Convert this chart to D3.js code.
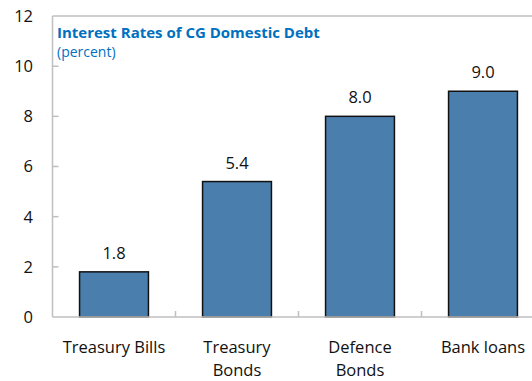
<!DOCTYPE html>
<html>
<head>
<meta charset="utf-8">
<script src="https://cdn.jsdelivr.net/npm/d3@7"></script>
<style>
  html, body { margin: 0; padding: 0; background: #fff; }
  svg { display: block; font-family: "Open Sans", "Noto Sans", sans-serif; }
</style>
</head>
<body>
<svg id="chart" width="532" height="381"></svg>
<script>
// Interest rates of central government domestic debt, by instrument (percent)
const categories = ["Treasury Bills", "Treasury Bonds", "Defence Bonds", "Bank loans"];
const categoryLines = [["Treasury Bills"], ["Treasury", "Bonds"], ["Defence", "Bonds"], ["Bank loans"]];
const rates = [1.8, 5.4, 8.0, 9.0];
const yTicks = [0, 2, 4, 6, 8, 10, 12];
const title = "Interest Rates of CG Domestic Debt";
const subtitle = "(percent)";

const svg = d3.select("#chart");
const plotLeft = 52.5, plotRight = 544.5, plotTop = 16, plotBottom = 317;
const axisColor = "#bfbfbf";
const textSize = 16.5;

const x = d3.scaleBand().domain(categories).range([plotLeft, plotRight])
  .paddingInner(0.44).paddingOuter(0.22);
const y = d3.scaleLinear().domain([0, 12]).range([plotBottom, plotTop]);

// frame: left axis and top border
svg.append("line").attr("x1", plotLeft).attr("x2", plotLeft).attr("y1", plotTop).attr("y2", plotBottom)
  .attr("stroke", axisColor).attr("stroke-width", 1.5);
svg.append("line").attr("x1", plotLeft).attr("x2", 540).attr("y1", plotTop).attr("y2", plotTop)
  .attr("stroke", axisColor).attr("stroke-width", 1.5);

// y ticks (inward) and labels
const gy = svg.append("g");
gy.selectAll("line").data(yTicks.filter(d => d > 0 && d < 12)).join("line")
  .attr("x1", plotLeft).attr("x2", plotLeft + 6)
  .attr("y1", d => y(d)).attr("y2", d => y(d))
  .attr("stroke", axisColor).attr("stroke-width", 1.5);
gy.selectAll("text").data(yTicks).join("text")
  .attr("x", 33).attr("y", d => y(d)).attr("dy", "0.36em")
  .attr("text-anchor", "end").attr("font-size", textSize).attr("fill", "#111")
  .text(d => d);

// bars
svg.append("g").selectAll("rect").data(rates).join("rect")
  .attr("x", (d, i) => x(categories[i]))
  .attr("width", x.bandwidth())
  .attr("y", d => y(d))
  .attr("height", d => y(0) - y(d))
  .attr("fill", "#4a7ead")
  .attr("stroke", "#111").attr("stroke-width", 1.5);

// value labels
svg.append("g").selectAll("text").data(rates).join("text")
  .attr("x", (d, i) => x(categories[i]) + x.bandwidth() / 2)
  .attr("y", d => y(d) - 13)
  .attr("text-anchor", "middle").attr("font-size", textSize).attr("fill", "#111")
  .text(d => d.toFixed(1));

// x axis baseline and category separators
svg.append("line").attr("x1", plotLeft).attr("x2", 540).attr("y1", plotBottom).attr("y2", plotBottom)
  .attr("stroke", axisColor).attr("stroke-width", 1.5);
const step = x.step();
svg.append("g").selectAll("line").data(categories.slice(1)).join("line")
  .attr("x1", d => x(d) - step * x.paddingInner() / 2)
  .attr("x2", d => x(d) - step * x.paddingInner() / 2)
  .attr("y1", plotBottom).attr("y2", plotBottom - 6)
  .attr("stroke", axisColor).attr("stroke-width", 1.5);

// category labels
const gx = svg.append("g");
categories.forEach((c, i) => {
  const t = gx.append("text")
    .attr("x", x(c) + x.bandwidth() / 2).attr("y", 353)
    .attr("text-anchor", "middle").attr("font-size", textSize).attr("fill", "#111");
  categoryLines[i].forEach((line, j) => {
    t.append("tspan").attr("x", x(c) + x.bandwidth() / 2)
      .attr("dy", j === 0 ? 0 : 23).text(line);
  });
});

// title block
svg.append("text").attr("x", 57).attr("y", 38)
  .attr("font-size", 15).attr("font-weight", "bold").attr("fill", "#0070c0")
  .text(title);
svg.append("text").attr("x", 57).attr("y", 57)
  .attr("font-size", 14).attr("fill", "#0070c0")
  .text(subtitle);
</script>
</body>
</html>
